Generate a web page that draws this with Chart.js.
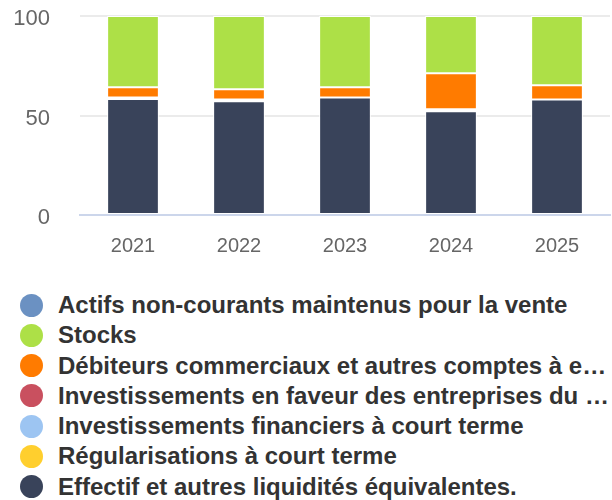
<!DOCTYPE html>
<html>
<head>
<meta charset="utf-8">
<script src="https://cdn.jsdelivr.net/npm/chart.js@4.4.1/dist/chart.umd.min.js"></script>
<style>
    body { margin: 0; background: #fff; }
    #wrap { position: relative; width: 612px; height: 265px; }
    #legend {
        position: absolute; left: 0; top: 290px; width: 612px;
        font-family: "Liberation Sans", Arial, sans-serif; font-weight: bold;
        font-size: 24px; color: #333;
    }
    .item { position: relative; height: 30.3px; }
    .dot { position: absolute; left: 20px; top: 3.5px; width: 23px; height: 23px; border-radius: 50%; }
    .txt {
        position: absolute; left: 58px; top: 0; line-height: 30px; max-width: 552px;
        white-space: nowrap; overflow: hidden; text-overflow: ellipsis;
    }
</style>
</head>
<body>
<div id="wrap"><canvas id="chart"></canvas></div>
<div id="legend"></div>
<script>
const years = ["2021", "2022", "2023", "2024", "2025"];

// legend order (top to bottom)
const seriesNames = [
    "Actifs non-courants maintenus pour la vente",
    "Stocks",
    "Débiteurs commerciaux et autres comptes à encaisser",
    "Investissements en faveur des entreprises du groupe",
    "Investissements financiers à court terme",
    "Régularisations à court terme",
    "Effectif et autres liquidités équivalentes."
];
const seriesColors = ["#6b91c2", "#ade047", "#ff7b00", "#c9505f", "#9dc5f2", "#ffcf2e", "#39435a"];

// percentage values per series
const actifs = [0, 0, 0, 0, 0];
const stocks = [35.8, 36.8, 35.8, 28.8, 34.8];
const debiteurs = [5.2, 5.1, 5.1, 18.1, 7.1];
const investGroupe = [0, 0, 0, 0, 0];
const investFin = [0, 0, 0, 0, 0];
const regularisations = [0.7, 1.0, 0, 1.0, 0];
const effectif = [58.3, 57.1, 59.1, 52.1, 58.1];
const seriesValues = [actifs, stocks, debiteurs, investGroupe, investFin, regularisations, effectif];

const yTicks = [0, 50, 100];

// stack bottom-up: last legend entry sits at the bottom
const datasets = [];
for (let i = seriesNames.length - 1; i >= 0; i--) {
    datasets.push({
        label: seriesNames[i],
        data: seriesValues[i],
        backgroundColor: seriesColors[i],
        borderColor: "#ffffff",
        borderWidth: 1,
        borderSkipped: false,
        barPercentage: 0.61,
        categoryPercentage: 0.8
    });
}

new Chart(document.getElementById("chart"), {
    type: "bar",
    data: { labels: years, datasets: datasets },
    options: {
        responsive: true,
        maintainAspectRatio: false,
        animation: false,
        layout: { padding: { top: 16, right: 2, left: 0, bottom: 0 } },
        plugins: { legend: { display: false }, tooltip: { enabled: false } },
        scales: {
            x: {
                stacked: true,
                grid: { display: false, drawTicks: false },
                border: { display: true, color: "#ccd6eb", width: 2 },
                ticks: {
                    color: "#666",
                    padding: 19,
                    font: { family: "Liberation Sans", size: 20 }
                },
                afterFit: (axis) => { axis.height = 50; axis.paddingLeft = 0; axis.paddingRight = 0; }
            },
            y: {
                stacked: true,
                min: 0,
                max: 100,
                afterBuildTicks: (axis) => { axis.ticks = yTicks.map(v => ({ value: v })); },
                grid: {
                    drawTicks: false,
                    lineWidth: 2,
                    color: (c) => c.tick && c.tick.value === 0 ? "#ccd6eb" : "#ebebeb"
                },
                border: { display: false },
                ticks: {
                    color: "#666",
                    padding: 30,
                    labelOffset: 3,
                    font: { family: "Liberation Sans", size: 22 }
                },
                afterFit: (axis) => { axis.width = 80; axis.paddingTop = 0; axis.paddingBottom = 0; }
            }
        }
    }
});

// legend built from the same series arrays
const legendDiv = document.getElementById("legend");
seriesNames.forEach((name, i) => {
    const item = document.createElement("div");
    item.className = "item";
    const dot = document.createElement("span");
    dot.className = "dot";
    dot.style.background = seriesColors[i];
    const txt = document.createElement("span");
    txt.className = "txt";
    txt.textContent = name;
    item.appendChild(dot);
    item.appendChild(txt);
    legendDiv.appendChild(item);
});
</script>
</body>
</html>
